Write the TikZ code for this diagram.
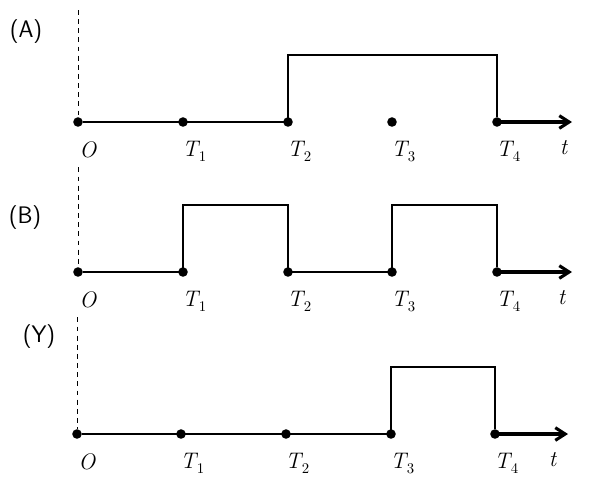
\documentclass[tikz,border=0pt]{standalone}
\usetikzlibrary{arrows.meta, positioning}

\newcommand{\tlab}[1]{T\kern0.5pt\raisebox{-3.5pt}{\fontsize{10.5}{12}\selectfont\upshape #1}}

\begin{document}
\begin{tikzpicture}[
  x = 0.025cm, y = -0.025cm,
  dot/.style    = {circle, fill=black, inner sep=0pt, minimum size=6.8pt},
  tlbl/.style   = {font=\fontsize{16}{19}\selectfont\itshape, inner sep=1pt},
  panel/.style  = {font=\fontsize{17}{20}\selectfont\sffamily, inner sep=0pt},
  sig/.style    = {line width=0.9pt},
  axis/.style   = {-{Straight Barb[length=7pt, width=9pt]}, line width=2.2pt},
  origin/.style = {dash pattern=on 3.5pt off 3pt, line width=0.7pt}
]
\useasboundingbox (0,0) rectangle (591,496);

%── Panel (A) ─────────────────────────────────────────────────────────────
\node[panel] (capA) at (26,32) {(A)};

\node[dot] (A0) at (78,122)  {};
\node[dot] (A1) at (183,122) {};
\node[dot] (A2) at (288,122) {};
\node[dot] (A3) at (392,122) {};
\node[dot] (A4) at (497,122) {};
\coordinate (Atop) at (288,55);
\coordinate (Aend) at (572,122);
\coordinate (Otop) at (78,10);

\node[tlbl, below=9pt of A0, xshift=7pt] (lA0) {O};
\node[tlbl, below=9pt of A1, xshift=8pt] (lA1) {\tlab{1}};
\node[tlbl, below=9pt of A2, xshift=8pt] (lA2) {\tlab{2}};
\node[tlbl, below=9pt of A3, xshift=8pt] (lA3) {\tlab{3}};
\node[tlbl, below=9pt of A4, xshift=8pt] (lA4) {\tlab{4}};
\node[tlbl, below=12pt of Aend, xshift=-6pt] (lAt) {t};

\draw[sig] (A0) -- (A2.center) -- (Atop) -- (A4 |- Atop) -- (A4);
\draw[axis] (A4.center) -- (Aend);
\draw[origin] (Otop) -- (A0);

%── Panel (B) ─────────────────────────────────────────────────────────────
\node[panel] (capB) at (25,218) {(B)};

\node[dot] (B0) at (78,272)  {};
\node[dot] (B1) at (183,272) {};
\node[dot] (B2) at (288,272) {};
\node[dot] (B3) at (392,272) {};
\node[dot] (B4) at (497,272) {};
\coordinate (Btop) at (183,205);
\coordinate (Bend) at (572,272);

\node[tlbl, below=9pt of B0, xshift=7pt] (lB0) {O};
\node[tlbl, below=9pt of B1, xshift=8pt] (lB1) {\tlab{1}};
\node[tlbl, below=9pt of B2, xshift=8pt] (lB2) {\tlab{2}};
\node[tlbl, below=9pt of B3, xshift=8pt] (lB3) {\tlab{3}};
\node[tlbl, below=9pt of B4, xshift=8pt] (lB4) {\tlab{4}};
\node[tlbl, below=12pt of Bend, xshift=-7.5pt] (lBt) {t};

\draw[sig] (B0) -- (B1.center) -- (Btop) -- (B2 |- Btop) -- (B2.center)
  -- (B3.center) -- (B3 |- Btop) -- (B4 |- Btop) -- (B4);
\draw[axis] (B4.center) -- (Bend);
\draw[origin, shorten <=5.7pt] (A0 |- lA0.south) -- (B0);

%── Panel (Y) ─────────────────────────────────────────────────────────────
\node[panel] (capY) at (39,337) {(Y)};

\node[dot] (Y0) at (77,434)  {};
\node[dot] (Y1) at (181,434) {};
\node[dot] (Y2) at (286,434) {};
\node[dot] (Y3) at (391,434) {};
\node[dot] (Y4) at (495,434) {};
\coordinate (Ytop) at (391,367);
\coordinate (Yend) at (568,434);

\node[tlbl, below=9pt of Y0, xshift=7pt] (lY0) {O};
\node[tlbl, below=9pt of Y1, xshift=8pt] (lY1) {\tlab{1}};
\node[tlbl, below=9pt of Y2, xshift=8pt] (lY2) {\tlab{2}};
\node[tlbl, below=9pt of Y3, xshift=8pt] (lY3) {\tlab{3}};
\node[tlbl, below=9pt of Y4, xshift=8pt] (lY4) {\tlab{4}};
\node[tlbl, below=12pt of Yend, xshift=-11pt] (lYt) {t};

\draw[sig] (Y0) -- (Y3.center) -- (Ytop) -- (Y4 |- Ytop) -- (Y4);
\draw[axis] (Y4.center) -- (Yend);
\draw[origin, shorten <=5.7pt] (Y0 |- lB0.south) -- (Y0);

\end{tikzpicture}
\end{document}
